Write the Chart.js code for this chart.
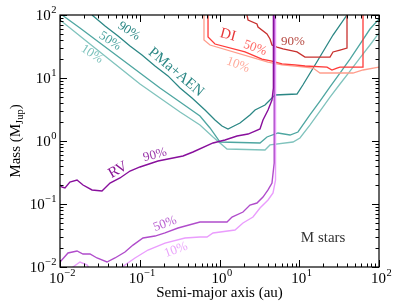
<!DOCTYPE html>
<html>
<head>
<meta charset="utf-8">
<script src="https://cdn.jsdelivr.net/npm/chart.js@4/dist/chart.umd.min.js"></script>
<style>
  html, body { margin: 0; padding: 0; background: #fff; }
</style>
</head>
<body>
<canvas id="limites" width="399" height="307"></canvas>
<script>
// expoentes dos rotulos dos eixos (10^n)
const expoentes = [-2, -1, 0, 1, 2];

// PMa+AEN (semi-eixo em au, massa em MJup)
const pmaX90 = [0.0252, 0.0367, 0.0534, 0.0755, 0.1067, 0.1553, 0.226, 0.320, 0.452, 0.658, 0.878, 1.075, 1.278, 1.52, 1.807, 2.41, 2.79, 3.72, 4.55, 4.97, 9.37, 11.1, 17.2, 26.5, 39.7];
const pmaY90 = [100, 66.9, 46.4, 32.2, 23.2, 15.5, 10.8, 6.94, 4.81, 3.10, 2.15, 1.73, 1.55, 1.73, 1.93, 2.59, 3.10, 3.73, 4.81, 5.37, 5.57, 7.74, 19.3, 48.1, 100];
const pmaX50 = [0.0106, 0.0178, 0.0317, 0.0565, 0.1007, 0.1794, 0.320, 0.569, 0.760, 1.015, 3.22, 3.94, 5.41, 7.66, 9.64, 13.6, 18.2, 24.3, 32.4, 43.3, 57.8, 77.1, 100];
const pmaY50 = [100, 62.2, 35.9, 20.8, 12.0, 6.94, 4.16, 2.49, 1.61, 0.964, 0.930, 1.158, 1.34, 1.245, 1.39, 2.59, 4.31, 7.20, 12.0, 20.0, 34.6, 59.9, 86.4];
const pmaX10 = [0.01, 0.0178, 0.0317, 0.0565, 0.1007, 0.1794, 0.320, 0.569, 0.829, 1.242, 3.72, 4.30, 8.35, 10.2, 13.6, 18.2, 24.3, 32.4, 43.3, 57.8, 77.1, 100];
const pmaY10 = [83.3, 46.4, 25.9, 14.4, 8.03, 4.81, 2.89, 1.79, 1.158, 0.746, 0.720, 0.865, 0.964, 1.117, 1.79, 2.99, 4.99, 8.03, 12.9, 20.8, 33.4, 51.8];

// DI
const diX90 = [2.21, 2.28, 2.95, 3.04, 3.94, 4.30, 4.55, 5.26, 6.26, 9.37, 11.8, 24.3, 26.5, 32.4, 39.7, 39.7];
const diY90 = [100, 83.3, 72.0, 64.5, 49.9, 41.6, 33.4, 31.0, 28.9, 25.9, 21.5, 21.5, 25.9, 27.8, 29.9, 100];
const diX50 = [0.718, 0.718, 0.878, 2.09, 3.41, 4.55, 6.08, 8.84, 11.8, 22.3, 25.7, 29.7, 32.4, 63.0, 63.0];
const diY50 = [100, 44.7, 34.6, 25.9, 20.0, 18.6, 16.7, 16.1, 15.5, 14.9, 13.4, 14.4, 14.9, 14.9, 100];
const diX10 = [0.639, 0.639, 0.760, 4.06, 6.08, 11.8, 14.9, 18.2, 47.2, 63.0, 100];
const diY10 = [100, 40.1, 33.4, 17.9, 16.1, 14.9, 14.4, 12.0, 12.0, 13.4, 14.9];

// RV
const rvX90 = [0.01, 0.0106, 0.01155, 0.0133, 0.01634, 0.01943, 0.0252, 0.0336, 0.0424, 0.0565, 0.0755, 0.1007, 0.1424, 0.1694, 0.226, 0.3485, 0.465, 0.829, 1.172, 1.658, 2.28, 2.79, 3.22, 3.51, 4.06, 4.55, 4.74, 4.74];
const rvY90 = [0.200, 0.186, 0.1795, 0.2234, 0.240, 0.200, 0.167, 0.1607, 0.2154, 0.259, 0.334, 0.387, 0.448, 0.481, 0.518, 0.578, 0.669, 0.930, 1.037, 1.20, 1.29, 1.44, 1.55, 2.15, 3.10, 4.48, 6.94, 100];
const rvX50 = [0.01, 0.0126, 0.01634, 0.01943, 0.02378, 0.0291, 0.0388, 0.0489, 0.0653, 0.0823, 0.1098, 0.1553, 0.2073, 0.3017, 0.569, 1.242, 1.435, 1.971, 2.41, 2.95, 3.51, 4.06, 4.55, 4.85, 4.85];
const rvY50 = [0.0120, 0.01669, 0.01795, 0.01608, 0.01608, 0.0139, 0.0120, 0.0139, 0.01730, 0.0223, 0.0289, 0.0310, 0.0347, 0.0416, 0.0518, 0.0518, 0.0622, 0.0746, 0.0964, 0.1037, 0.129, 0.167, 0.2154, 0.448, 100];
const rvX10 = [0.0126, 0.01456, 0.0178, 0.0218, 0.0252, 0.0489, 0.0599, 0.0872, 0.1269, 0.2073, 0.369, 0.569, 0.697, 0.829, 1.564, 1.971, 2.63, 3.22, 4.06, 4.69, 5.04, 5.04];
const rvY10 = [0.0075, 0.0100, 0.0120, 0.0108, 0.0083, 0.0083, 0.0100, 0.0139, 0.0186, 0.0240, 0.0289, 0.0299, 0.0299, 0.0347, 0.0387, 0.0499, 0.0622, 0.0864, 0.116, 0.1495, 0.240, 100];

// rotulos dentro do grafico: texto, posicao (au, MJup), angulo, cor
const rotulos = [
  ['90%', 0.0733, 55.7, 33, '#2b8785', 13],
  ['50%', 0.0424, 38.7, 33, '#4aa39f', 13],
  ['10%', 0.0252, 24.0, 33, '#7cc2bc', 13],
  ['PMa+AEN', 0.285, 12.4, 40, '#2b8785', 15],
  ['DI', 1.278, 48.1, 15, '#e8383a', 15],
  ['50%', 2.79, 29.9, 20, '#ff6a66', 13],
  ['90%', 8.35, 37.3, 0, '#b5473f', 13],
  ['10%', 1.706, 16.1, 20, '#ffab9c', 13],
  ['RV', 0.0534, 0.347, -30, '#8a1596', 15],
  ['90%', 0.1553, 0.60, -15, '#9b3aab', 13],
  ['50%', 0.2073, 0.0481, -20, '#b85fd0', 13],
  ['10%', 0.285, 0.0186, -20, '#eaa4fb', 13],
  ['M stars', 19.9, 0.0289, 0, '#333333', 15]
];

const fonte = '"Liberation Serif", "DejaVu Serif", serif';

function pares(xs, ys) {
  return xs.map(function (x, i) { return { x: x, y: ys[i] }; });
}

function serie(xs, ys, cor, larg) {
  return {
    data: pares(xs, ys),
    borderColor: cor,
    borderWidth: larg || 1.3,
    pointRadius: 0,
    fill: false,
    tension: 0
  };
}

const eixos = {
  id: 'eixos',
  afterDraw: function (chart) {
    const ctx = chart.ctx;
    const xs = chart.scales.x, ys = chart.scales.y;
    const a = chart.chartArea;
    ctx.save();

    // moldura
    ctx.strokeStyle = '#000';
    ctx.lineWidth = 1.2;
    ctx.strokeRect(a.left, a.top, a.right - a.left, a.bottom - a.top);

    // marcas para dentro nos quatro lados
    ctx.lineWidth = 1;
    expoentes.forEach(function (e) {
      for (let m = 1; m <= 9; m++) {
        const v = m * Math.pow(10, e);
        if (v > 100.0001) continue;
        const comp = m === 1 ? 7 : 3.5;
        const px = Math.round(xs.getPixelForValue(v)) + 0.5;
        const py = Math.round(ys.getPixelForValue(v)) + 0.5;
        ctx.beginPath();
        ctx.moveTo(px, a.bottom); ctx.lineTo(px, a.bottom - comp);
        ctx.moveTo(px, a.top); ctx.lineTo(px, a.top + comp);
        ctx.moveTo(a.left, py); ctx.lineTo(a.left + comp, py);
        ctx.moveTo(a.right, py); ctx.lineTo(a.right - comp, py);
        ctx.stroke();
      }
    });

    // rotulos das marcas 10^n
    ctx.fillStyle = '#000';
    ctx.textBaseline = 'alphabetic';
    expoentes.forEach(function (e) {
      const sup = e < 0 ? '\u2212' + Math.abs(e) : String(e);
      ctx.font = '15px ' + fonte;
      const wb = ctx.measureText('10').width;
      ctx.font = '10.5px ' + fonte;
      const we = ctx.measureText(sup).width;
      // eixo x
      let cx = xs.getPixelForValue(Math.pow(10, e));
      let x0 = cx - (wb + we) / 2 + 2;
      ctx.font = '15px ' + fonte;
      ctx.textAlign = 'left';
      ctx.fillText('10', x0, 283);
      ctx.font = '10.5px ' + fonte;
      ctx.fillText(sup, x0 + wb + 0.5, 276);
      // eixo y
      const cy = ys.getPixelForValue(Math.pow(10, e));
      x0 = a.left - 4 - we - wb;
      ctx.font = '15px ' + fonte;
      ctx.fillText('10', x0, cy + 5);
      ctx.font = '10.5px ' + fonte;
      ctx.fillText(sup, x0 + wb + 0.5, cy - 2);
    });

    // titulo eixo x
    ctx.font = '15px ' + fonte;
    ctx.textAlign = 'center';
    ctx.fillText('Semi-major axis (au)', (a.left + a.right) / 2, 297);

    // titulo eixo y com subscrito
    ctx.save();
    ctx.translate(20, (a.top + a.bottom) / 2);
    ctx.rotate(-Math.PI / 2);
    ctx.font = '15px ' + fonte;
    const t1 = 'Mass (M', t3 = ')';
    const w1 = ctx.measureText(t1).width, w3 = ctx.measureText(t3).width;
    ctx.font = '10.5px ' + fonte;
    const w2 = ctx.measureText('Jup').width;
    let sx = -(w1 + w2 + w3) / 2;
    ctx.textAlign = 'left';
    ctx.font = '15px ' + fonte;
    ctx.fillText(t1, sx, 0);
    ctx.font = '10.5px ' + fonte;
    ctx.fillText('Jup', sx + w1, 3);
    ctx.font = '15px ' + fonte;
    ctx.fillText(t3, sx + w1 + w2, 0);
    ctx.restore();

    // rotulos das curvas
    rotulos.forEach(function (r) {
      ctx.save();
      ctx.translate(xs.getPixelForValue(r[1]), ys.getPixelForValue(r[2]));
      ctx.rotate(r[3] * Math.PI / 180);
      ctx.font = r[5] + 'px ' + fonte;
      ctx.fillStyle = r[4];
      ctx.textAlign = 'center';
      ctx.textBaseline = 'middle';
      ctx.fillText(r[0], 0, 0);
      ctx.restore();
    });

    ctx.restore();
  }
};

new Chart(document.getElementById('limites'), {
  type: 'line',
  data: {
    datasets: [
      serie(rvX90, rvY90, '#880f9c', 1.4),
      serie(rvX50, rvY50, '#b04ccb', 1.4),
      serie(rvX10, rvY10, '#ea9dfd', 1.4),
      serie(diX90, diY90, '#c8302e'),
      serie(diX50, diY50, '#ff3a38'),
      serie(diX10, diY10, '#ff9d8c'),
      serie(pmaX90, pmaY90, '#2b8785'),
      serie(pmaX50, pmaY50, '#4ea6a1'),
      serie(pmaX10, pmaY10, '#80c3bd')
    ]
  },
  options: {
    responsive: false,
    animation: false,
    devicePixelRatio: 1,
    layout: { padding: { left: 60, top: 15, right: 20, bottom: 40 } },
    plugins: { legend: { display: false }, tooltip: { enabled: false } },
    scales: {
      x: { type: 'logarithmic', min: 0.01, max: 100, display: false },
      y: { type: 'logarithmic', min: 0.01, max: 100, display: false }
    }
  },
  plugins: [eixos]
});
</script>
</body>
</html>
